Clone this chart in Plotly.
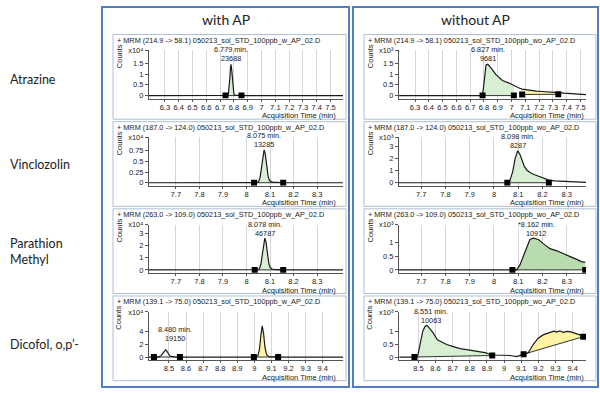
import numpy as np
import plotly.graph_objects as go

# ------------------------------------------------------------------ data
row_labels = ["Atrazine", "Vinclozolin", "Parathion<br>Methyl", "Dicofol, o,p\u2019-"]
col_titles = ["with AP", "without AP"]
transitions = ["214.9 -> 58.1", "187.0 -> 124.0", "263.0 -> 109.0", "139.1 -> 75.0"]
file_names = ["050213_sol_STD_100ppb_w_AP_02.D", "050213_sol_STD_100ppb_wo_AP_02.D"]
exponent_labels = [["x10\u2074", "x10\u00b3"], ["x10\u2074", "x10\u00b3"],
                   ["x10\u2074", "x10\u00b3"], ["x10\u2074", "x10\u00b3"]]

x_tick_vals = [
    [6.3, 6.4, 6.5, 6.6, 6.7, 6.8, 6.9, 7.0, 7.1, 7.2, 7.3, 7.4, 7.5],
    [7.7, 7.8, 7.9, 8.0, 8.1, 8.2, 8.3],
    [7.7, 7.8, 7.9, 8.0, 8.1, 8.2, 8.3],
    [8.5, 8.6, 8.7, 8.8, 8.9, 9.0, 9.1, 9.2, 9.3, 9.4],
]
x_tick_text = [
    ["6.3", "6.4", "6.5", "6.6", "6.7", "6.8", "6.9", "7", "7.1", "7.2", "7.3", "7.4", "7.5"],
    ["7.7", "7.8", "7.9", "8", "8.1", "8.2", "8.3"],
    ["7.7", "7.8", "7.9", "8", "8.1", "8.2", "8.3"],
    ["8.5", "8.6", "8.7", "8.8", "8.9", "9", "9.1", "9.2", "9.3", "9.4"],
]
y_tick_vals = [
    [0, 0.5, 1, 1.5], [0, 0.5, 1, 1.5],
    [0, 0.25, 0.5, 0.75], [0, 1, 2, 3],
    [0, 1, 2, 3], [0, 0.5, 1],
    [0, 2, 4], [0, 0.5, 1],
]
y_tick_text = [
    ["0", "0.5", "1", "1.5"], ["0", "0.5", "1", "1.5"],
    ["0", "0.25", "0.5", "0.75"], ["0", "1", "2", "3"],
    ["0", "1", "2", "3"], ["0", "0.5", "1"],
    ["0", "2", "4"], ["0", "0.5", "1"],
]

# Atrazine, with AP (x10^4)
atr_w_t = [6.185, 6.50, 6.739, 6.755, 6.760, 6.765, 6.770, 6.775, 6.779, 6.785, 6.790, 6.795,
           6.800, 6.808, 6.820, 6.855, 7.10, 7.59]
atr_w_y = [0, 0, 0, 0.01, 0.09, 0.31, 0.77, 1.28, 1.45, 1.12, 0.60, 0.24, 0.07, 0.02, 0.01, 0, 0, 0]
atr_w_mark_t = [6.739, 6.855]
atr_w_mark_y = [0, 0]
atr_w_peaks = [(0, 1, "g")]
atr_w_label = ("6.779 min.", "23688", 6.779, 1.45)

# Atrazine, without AP (x10^3)
atr_wo_t = [6.185, 6.50, 6.79, 6.803, 6.815, 6.827, 6.851, 6.887, 6.934, 6.982, 7.017, 7.05, 7.077,
            7.11, 7.148, 7.18, 7.22, 7.26, 7.30, 7.339, 7.38, 7.434, 7.47, 7.50, 7.54]
atr_wo_y = [0, 0, 0, 0.73, 1.42, 1.45, 1.28, 0.97, 0.70, 0.58, 0.45, 0.36, 0.30, 0.26, 0.23, 0.21,
            0.19, 0.18, 0.15, 0.14, 0.11, 0.08, 0.06, 0.05, 0.04]
atr_wo_mark_t = [6.79, 7.017, 7.077, 7.339]
atr_wo_mark_y = [0, 0, 0.05, 0.06]
atr_wo_peaks = [(0, 1, "g"), (2, 3, "y")]
atr_wo_label = ("6.827 min.", "9681", 6.827, 1.45)

# Vinclozolin, with AP (x10^4)
vin_w_t = [7.586, 7.90, 8.032, 8.045, 8.052, 8.058, 8.064, 8.070, 8.075, 8.080, 8.086, 8.092,
           8.098, 8.106, 8.115, 8.130, 8.156, 8.25, 8.41]
vin_w_y = [0, 0, 0, 0.003, 0.03, 0.13, 0.36, 0.66, 0.77, 0.67, 0.39, 0.15, 0.05, 0.02, 0.012,
           0.005, 0, 0, 0]
vin_w_mark_t = [8.032, 8.156]
vin_w_mark_y = [0, 0]
vin_w_peaks = [(0, 1, "g")]
vin_w_label = ("8.075 min.", "13285", 8.075, 0.77)

# Vinclozolin, without AP (x10^3)
vin_wo_t = [7.609, 7.90, 8.051, 8.065, 8.077, 8.087, 8.098, 8.108, 8.115, 8.125, 8.136, 8.150,
            8.165, 8.193, 8.226, 8.250, 8.279, 8.336, 8.379]
vin_wo_y = [0, 0, 0, 0.15, 0.9, 2.0, 2.65, 2.3, 1.84, 1.35, 1.03, 0.82, 0.68, 0.49, 0.22, 0.15,
            0.11, 0.05, 0.03]
vin_wo_mark_t = [8.055, 8.226]
vin_wo_mark_y = [0, 0]
vin_wo_peaks = [(0, 1, "g")]
vin_wo_label = ("8.098 min.", "8287", 8.098, 2.65)

# Parathion methyl, with AP (x10^4)
par_w_t = [7.586, 7.90, 8.035, 8.048, 8.055, 8.061, 8.067, 8.073, 8.078, 8.083, 8.089, 8.095,
           8.101, 8.109, 8.118, 8.133, 8.156, 8.25, 8.41]
par_w_y = [0, 0, 0, 0.01, 0.10, 0.44, 1.23, 2.25, 2.63, 2.29, 1.33, 0.51, 0.17, 0.07, 0.04,
           0.02, 0, 0, 0]
par_w_mark_t = [8.035, 8.156]
par_w_mark_y = [0, 0]
par_w_peaks = [(0, 1, "g")]
par_w_label = ("8.078 min.", "46787", 8.078, 2.63)

# Parathion methyl, without AP (x10^3)
par_wo_t = [7.609, 7.90, 8.076, 8.093, 8.107, 8.121, 8.134, 8.148, 8.162, 8.183, 8.203, 8.231,
            8.259, 8.286, 8.314, 8.341, 8.360, 8.376]
par_wo_y = [0, 0, 0, 0, 0.18, 0.48, 0.83, 1.10, 1.15, 1.10, 0.95, 0.77, 0.69, 0.60, 0.48, 0.38,
            0.30, 0.27]
par_wo_mark_t = [8.076, 8.376]
par_wo_mark_y = [0, 0]
par_wo_peaks = [(0, 1, "G")]
par_wo_label = ("*8.162 min.", "10912", 8.162, 1.15)

# Dicofol o,p', with AP (x10^4)
dic_w_t = [8.383, 8.412, 8.440, 8.455, 8.465, 8.473, 8.480, 8.487, 8.495, 8.505, 8.530, 8.564,
           8.80, 8.997, 9.020, 9.030, 9.038, 9.046, 9.054, 9.062, 9.072, 9.085, 9.139, 9.30, 9.519]
dic_w_y = [0, 0, 0, 0.25, 0.65, 0.98, 1.10, 0.95, 0.55, 0.15, 0.02, 0, 0, 0, 0.15, 1.2, 3.3, 4.8,
           3.6, 1.5, 0.35, 0.05, 0, 0, 0]
dic_w_mark_t = [8.412, 8.564, 8.997, 9.139]
dic_w_mark_y = [0, 0, 0, 0]
dic_w_peaks = [(0, 1, "w"), (2, 3, "y")]
dic_w_label = ("8.480 min.", "19150", 8.480, 1.10)

# Dicofol o,p', without AP (x10^3)
dic_wo_t = [8.389, 8.477, 8.496, 8.510, 8.525, 8.539, 8.548, 8.556, 8.568, 8.587, 8.611, 8.636,
            8.665, 8.704, 8.743, 8.791, 8.840, 8.889, 8.931, 8.976, 9.034, 9.073, 9.114, 9.141,
            9.170, 9.199, 9.228, 9.250, 9.267, 9.290, 9.306, 9.325, 9.345, 9.365, 9.384, 9.405,
            9.423, 9.445, 9.462, 9.475]
dic_wo_y = [0, 0, 0.04, 0.49, 1.00, 1.20, 1.25, 1.20, 1.10, 0.94, 0.68, 0.59, 0.49, 0.41, 0.33,
            0.28, 0.23, 0.17, 0.08, 0.08, 0.06, 0.02, 0.11, 0.17, 0.49, 0.74, 0.87, 0.92, 0.97,
            1.02, 0.98, 1.03, 0.97, 1.01, 1.00, 0.95, 0.91, 0.88, 0.81, 0.80]
dic_wo_mark_t = [8.477, 8.931, 9.114, 9.462]
dic_wo_mark_y = [0, 0.06, 0.11, 0.80]
dic_wo_peaks = [(0, 1, "g"), (2, 3, "y")]
dic_wo_label = ("8.551 min.", "10063", 8.551, 1.25)

panels = [
    (atr_w_t, atr_w_y, atr_w_mark_t, atr_w_mark_y, atr_w_peaks, atr_w_label),
    (atr_wo_t, atr_wo_y, atr_wo_mark_t, atr_wo_mark_y, atr_wo_peaks, atr_wo_label),
    (vin_w_t, vin_w_y, vin_w_mark_t, vin_w_mark_y, vin_w_peaks, vin_w_label),
    (vin_wo_t, vin_wo_y, vin_wo_mark_t, vin_wo_mark_y, vin_wo_peaks, vin_wo_label),
    (par_w_t, par_w_y, par_w_mark_t, par_w_mark_y, par_w_peaks, par_w_label),
    (par_wo_t, par_wo_y, par_wo_mark_t, par_wo_mark_y, par_wo_peaks, par_wo_label),
    (dic_w_t, dic_w_y, dic_w_mark_t, dic_w_mark_y, dic_w_peaks, dic_w_label),
    (dic_wo_t, dic_wo_y, dic_wo_mark_t, dic_wo_mark_y, dic_wo_peaks, dic_wo_label),
]

# ------------------------------------------------------------------ layout / style
W, H = 600, 393
SF = "Liberation Sans, Arial, sans-serif"
BF = "Lato, Open Sans, sans-serif"
TXT = "#222222"
fill_colors = {"g": "#d9efd4", "G": "#b9dbb0", "y": "#fff3a6", "w": "#eef8ec"}

x_ranges = [[6.185, 7.59], [6.184, 7.54], [7.586, 8.41], [7.609, 8.379],
            [7.586, 8.41], [7.609, 8.379], [8.383, 9.519], [8.387, 9.478]]
y_tops = [2.1, 2.1, 1.06, 3.75, 3.75, 1.64, 7.0, 1.78]
# (xshift, yshift of area line, yshift of RT line) in px
label_shift = [(0, 6, 14.5), (0, 6, 14.5), (0, 5, 14), (0, 5, 14),
               (0, 5, 14), (3, 5, 14), (9, 11, 20), (4, 5, 14)]

row_tops = [31, 119.5, 208, 296.5]
panel_h = 86
panel_x = [(113, 346), (364, 596)]
plot_x = [(149, 343), (399, 586)]
outer = [(102, 349), (353, 598)]


def px(x):
    return x / W


def py(y):
    return 1 - y / H


fig = go.Figure()
shapes = []
annotations = []

for c in range(2):
    x0, x1 = outer[c]
    shapes.append(dict(type="rect", xref="paper", yref="paper", x0=px(x0), x1=px(x1),
                       y0=py(389), y1=py(3), line=dict(color="#4f7fbf", width=2),
                       layer="below"))
    annotations.append(dict(text=col_titles[c], xref="paper", yref="paper",
                            x=px((x0 + x1) / 2), y=py(16), showarrow=False,
                            xanchor="center", yanchor="middle",
                            font=dict(family=BF, size=14, color=TXT)))

row_label_y = [77, 163, 251, 346]
for r in range(4):
    annotations.append(dict(text=row_labels[r], xref="paper", yref="paper",
                            x=px(8), y=py(row_label_y[r]), showarrow=False,
                            xanchor="left", yanchor="middle", align="left",
                            font=dict(family=BF, size=12.5, color=TXT)))

layout_axes = {}
for k in range(8):
    r, c = divmod(k, 2)
    t0 = row_tops[r]
    xid = "x" if k == 0 else f"x{k + 1}"
    yid = "y" if k == 0 else f"y{k + 1}"
    xname = "xaxis" if k == 0 else f"xaxis{k + 1}"
    yname = "yaxis" if k == 0 else f"yaxis{k + 1}"
    top = y_tops[k]

    # panel frame
    pxl, pxr = panel_x[c]
    shapes.append(dict(type="rect", xref="paper", yref="paper", x0=px(pxl), x1=px(pxr),
                       y0=py(t0 + panel_h), y1=py(t0), line=dict(color="#aebfd4", width=1),
                       fillcolor="white", layer="below"))

    layout_axes[xname] = dict(
        domain=[px(plot_x[c][0]), px(plot_x[c][1])], range=x_ranges[k], anchor=yid,
        tickvals=x_tick_vals[r], ticktext=x_tick_text[r], showgrid=True,
        gridcolor="#d6d6d6", gridwidth=1, showline=True, linecolor="#555555", linewidth=1,
        ticks="outside", ticklen=2, tickcolor="#555555", zeroline=False, fixedrange=True,
        ticklabelstandoff=-1,
        tickfont=dict(family=SF, size=7.5, color=TXT))
    layout_axes[yname] = dict(
        domain=[py(t0 + 65), py(t0 + 16)], range=[-top * 3 / 46, top], anchor=xid,
        tickvals=y_tick_vals[k] + [top * 0.995],
        ticktext=y_tick_text[k] + [exponent_labels[r][c]],
        showgrid=False, zeroline=False, showline=True, linecolor="#555555", linewidth=1,
        ticks="outside", ticklen=3, tickcolor="#555555", fixedrange=True,
        tickfont=dict(family=SF, size=7.5, color=TXT))

    # panel texts
    annotations.append(dict(text=f"+ MRM ({transitions[r]}) {file_names[c]}",
                            xref="paper", yref="paper", x=px(pxl + 2), y=py(t0 + 6),
                            showarrow=False, xanchor="left", yanchor="middle",
                            font=dict(family=SF, size=7.3, color=TXT)))
    annotations.append(dict(text="Counts", xref="paper", yref="paper",
                            x=px(pxl + 6), y=py(t0 + 22), showarrow=False, textangle=-90,
                            xanchor="center", yanchor="middle",
                            font=dict(family=SF, size=7.5, color=TXT)))
    annotations.append(dict(text="Acquisition Time (min)", xref="paper", yref="paper",
                            x=px(plot_x[c][1] - (5 if c == 0 else 0)), y=py(t0 + 82.5),
                            showarrow=False, xanchor="right", yanchor="middle",
                            font=dict(family=SF, size=7.5, color=TXT)))

    t, y, mt, my, peaks, lab = panels[k]
    ta_ = np.asarray(t, dtype=float)
    ya_ = np.asarray(y, dtype=float)
    for (a, b, kind) in peaks:
        t_a, t_b = mt[a], mt[b]
        inside = (ta_ > t_a) & (ta_ < t_b)
        xs = [t_a] + list(ta_[inside]) + [t_b, t_b, t_a]
        ys = ([float(np.interp(t_a, ta_, ya_))] + list(ya_[inside]) +
              [float(np.interp(t_b, ta_, ya_)), my[b], my[a]])
        fig.add_trace(go.Scatter(x=xs, y=ys, xaxis=xid, yaxis=yid, mode="lines",
                                 fill="toself", fillcolor=fill_colors[kind],
                                 line=dict(width=0), hoverinfo="skip", showlegend=False))
        fig.add_trace(go.Scatter(x=[t_a, t_b], y=[my[a], my[b]], xaxis=xid, yaxis=yid,
                                 mode="lines", line=dict(color="#333333", width=1),
                                 hoverinfo="skip", showlegend=False))
    fig.add_trace(go.Scatter(x=t, y=y, xaxis=xid, yaxis=yid, mode="lines",
                             line=dict(color="#1a1a1a", width=1.2), showlegend=False))
    fig.add_trace(go.Scatter(x=mt, y=my, xaxis=xid, yaxis=yid, mode="markers",
                             marker=dict(symbol="square", size=6, color="black"),
                             showlegend=False))

    rt_txt, area_txt, lx, ly = lab
    dx, s1, s2 = label_shift[k]
    annotations.append(dict(text=area_txt, xref=xid, yref=yid, x=lx, y=ly, xshift=dx,
                            yshift=s1, showarrow=False, xanchor="center",
                            yanchor="middle", font=dict(family=SF, size=7.3, color=TXT)))
    annotations.append(dict(text=rt_txt, xref=xid, yref=yid, x=lx, y=ly, xshift=dx,
                            yshift=s2, showarrow=False, xanchor="center",
                            yanchor="middle", font=dict(family=SF, size=7.3, color=TXT)))

fig.update_layout(width=W, height=H, margin=dict(l=0, r=0, t=0, b=0),
                  paper_bgcolor="white", plot_bgcolor="rgba(0,0,0,0)",
                  shapes=shapes, annotations=annotations, showlegend=False,
                  **layout_axes)
fig.write_html("out.html", config={"displayModeBar": False},
               post_script="document.body.style.margin='0';document.body.style.overflow='hidden';")
